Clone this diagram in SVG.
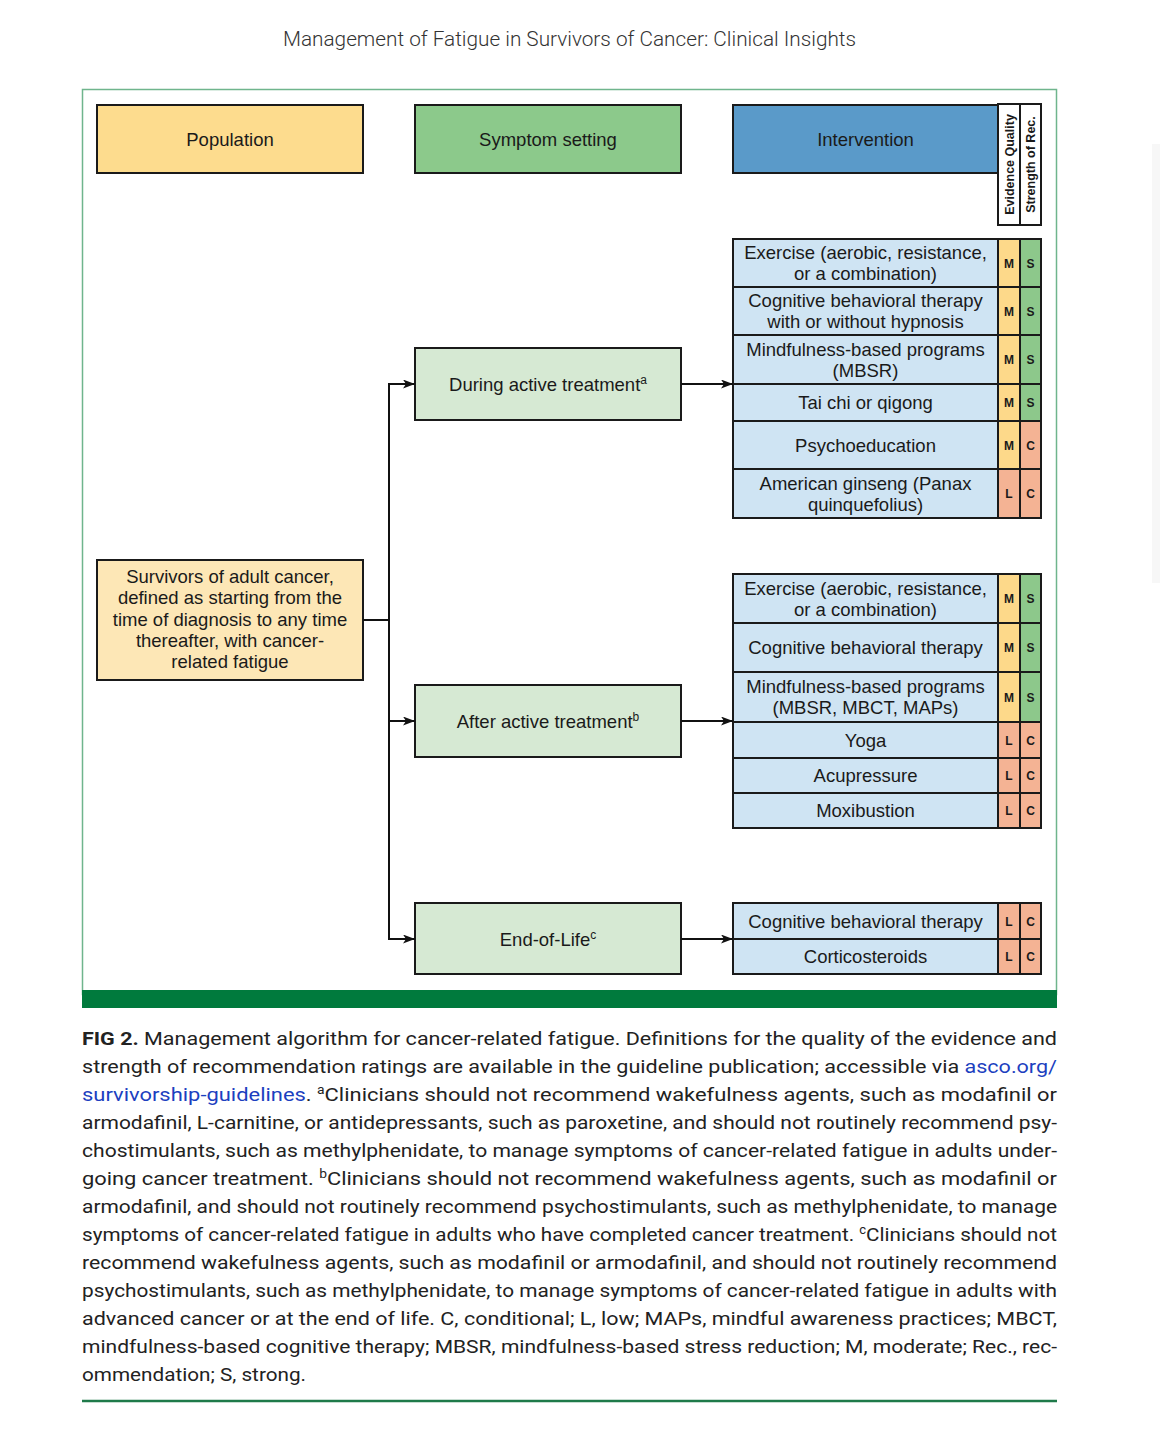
<svg xmlns="http://www.w3.org/2000/svg" width="1170" height="1433" viewBox="0 0 1170 1433">
<defs>
<marker id="ah" markerUnits="userSpaceOnUse" markerWidth="13" markerHeight="10" refX="12" refY="4.5" orient="auto">
<path d="M0,0 L12,4.5 L0,9 L3,4.5 z" fill="#111"/>
</marker>
<style>
.t{font-family:"Liberation Sans",Arial,sans-serif;font-size:18.5px;fill:#1a1a1a;text-anchor:middle}
.b{stroke:#1a1a1a;stroke-width:2}
.cell{fill:#cfe4f3;stroke:#1a1a1a;stroke-width:2}
.m{fill:#fdd98a;stroke:#1a1a1a;stroke-width:2}
.s{fill:#8dc88b;stroke:#1a1a1a;stroke-width:2}
.c{fill:#f4b394;stroke:#1a1a1a;stroke-width:2}
.r{font-family:"Liberation Sans",Arial,sans-serif;font-size:12px;font-weight:bold;fill:#1a1a1a;text-anchor:middle}
.v{font-family:"Liberation Sans",Arial,sans-serif;font-size:12.5px;font-weight:bold;fill:#1a1a1a;text-anchor:middle}
.cap{font-family:Roboto,"Liberation Sans",sans-serif;font-size:19px;fill:#222}
.lnk{fill:#1c3fbf}
.sup{font-size:12px}
.con{fill:none;stroke:#111;stroke-width:2}
</style>
</defs>
<rect width="1170" height="1433" fill="#ffffff"/>
<rect x="1152" y="144" width="8" height="439" fill="#f7f7f7"/>
<text x="569.5" y="46" font-family="Roboto,'Liberation Sans',sans-serif" font-weight="300" font-size="20" fill="#333" text-anchor="middle" textLength="573" lengthAdjust="spacingAndGlyphs">Management of Fatigue in Survivors of Cancer: Clinical Insights</text>
<rect x="82.5" y="89.5" width="974" height="905" fill="none" stroke="#6fb58d" stroke-width="1.5"/>
<rect x="82" y="990" width="975" height="18" fill="#007a3d"/>

<g id="header-population"><rect x="97" y="105" width="266" height="68" fill="#fddc8e" class="b"/><text class="t" x="230" y="145.5">Population</text></g>
<g id="header-symptom"><rect x="415" y="105" width="266" height="68" fill="#8cc98b" class="b"/><text class="t" x="548" y="145.5">Symptom setting</text></g>
<g id="header-intervention"><rect x="733" y="105" width="265" height="68" fill="#5a9ac9" class="b"/><text class="t" x="865.5" y="145.5">Intervention</text></g>
<g id="header-evidence"><rect x="998" y="104" width="22" height="121" fill="#fff" class="b"/><text class="v" transform="translate(1013.5,164.5) rotate(-90)">Evidence Quality</text></g>
<g id="header-strength"><rect x="1020" y="104" width="21" height="121" fill="#fff" class="b"/><text class="v" transform="translate(1034.5,164.5) rotate(-90)">Strength of Rec.</text></g>

<g id="population"><rect x="97" y="560" width="266" height="120" fill="#fde7b6" class="b"/>
<text class="t" x="230"><tspan x="230" y="583">Survivors of adult cancer,</tspan><tspan x="230" y="604.3">defined as starting from the</tspan><tspan x="230" y="625.6">time of diagnosis to any time</tspan><tspan x="230" y="646.9">thereafter, with cancer-</tspan><tspan x="230" y="668.2">related fatigue</tspan></text></g>

<g id="during"><rect x="415" y="348" width="266" height="72" fill="#d6e9d3" class="b"/><text class="t" x="548" y="390.5">During active treatment<tspan class="sup" baseline-shift="super">a</tspan></text></g>
<g id="after"><rect x="415" y="685" width="266" height="72" fill="#d6e9d3" class="b"/><text class="t" x="548" y="727.5">After active treatment<tspan class="sup" baseline-shift="super">b</tspan></text></g>
<g id="eol"><rect x="415" y="903" width="266" height="71" fill="#d6e9d3" class="b"/><text class="t" x="548" y="945.5">End-of-Life<tspan class="sup" baseline-shift="super">c</tspan></text></g>

<g id="int-during">
<g id="d1"><rect class="cell" x="733" y="239" width="265" height="48"/><rect class="m" x="998" y="239" width="22" height="48"/><rect class="s" x="1020" y="239" width="21" height="48"/>
<text class="t" x="865.5"><tspan x="865.5" y="259">Exercise (aerobic, resistance,</tspan><tspan x="865.5" y="280">or a combination)</tspan></text><text class="r" x="1009" y="267.5">M</text><text class="r" x="1030.5" y="267.5">S</text></g>
<g id="d2"><rect class="cell" x="733" y="287" width="265" height="48"/><rect class="m" x="998" y="287" width="22" height="48"/><rect class="s" x="1020" y="287" width="21" height="48"/>
<text class="t" x="865.5"><tspan x="865.5" y="307">Cognitive behavioral therapy</tspan><tspan x="865.5" y="328">with or without hypnosis</tspan></text><text class="r" x="1009" y="315.5">M</text><text class="r" x="1030.5" y="315.5">S</text></g>
<g id="d3"><rect class="cell" x="733" y="335" width="265" height="49"/><rect class="m" x="998" y="335" width="22" height="49"/><rect class="s" x="1020" y="335" width="21" height="49"/>
<text class="t" x="865.5"><tspan x="865.5" y="355.5">Mindfulness-based programs</tspan><tspan x="865.5" y="376.5">(MBSR)</tspan></text><text class="r" x="1009" y="364">M</text><text class="r" x="1030.5" y="364">S</text></g>
<g id="d4"><rect class="cell" x="733" y="384" width="265" height="37"/><rect class="m" x="998" y="384" width="22" height="37"/><rect class="s" x="1020" y="384" width="21" height="37"/>
<text class="t" x="865.5" y="409">Tai chi or qigong</text><text class="r" x="1009" y="407">M</text><text class="r" x="1030.5" y="407">S</text></g>
<g id="d5"><rect class="cell" x="733" y="421" width="265" height="48"/><rect class="m" x="998" y="421" width="22" height="48"/><rect class="c" x="1020" y="421" width="21" height="48"/>
<text class="t" x="865.5" y="451.5">Psychoeducation</text><text class="r" x="1009" y="449.5">M</text><text class="r" x="1030.5" y="449.5">C</text></g>
<g id="d6"><rect class="cell" x="733" y="469" width="265" height="49"/><rect class="c" x="998" y="469" width="22" height="49"/><rect class="c" x="1020" y="469" width="21" height="49"/>
<text class="t" x="865.5"><tspan x="865.5" y="489.5">American ginseng (Panax</tspan><tspan x="865.5" y="510.5">quinquefolius)</tspan></text><text class="r" x="1009" y="498">L</text><text class="r" x="1030.5" y="498">C</text></g>
</g>

<g id="int-after">
<g id="a1"><rect class="cell" x="733" y="574" width="265" height="49"/><rect class="m" x="998" y="574" width="22" height="49"/><rect class="s" x="1020" y="574" width="21" height="49"/>
<text class="t" x="865.5"><tspan x="865.5" y="594.5">Exercise (aerobic, resistance,</tspan><tspan x="865.5" y="615.5">or a combination)</tspan></text><text class="r" x="1009" y="603">M</text><text class="r" x="1030.5" y="603">S</text></g>
<g id="a2"><rect class="cell" x="733" y="623" width="265" height="49"/><rect class="m" x="998" y="623" width="22" height="49"/><rect class="s" x="1020" y="623" width="21" height="49"/>
<text class="t" x="865.5" y="654">Cognitive behavioral therapy</text><text class="r" x="1009" y="652">M</text><text class="r" x="1030.5" y="652">S</text></g>
<g id="a3"><rect class="cell" x="733" y="672" width="265" height="50"/><rect class="m" x="998" y="672" width="22" height="50"/><rect class="s" x="1020" y="672" width="21" height="50"/>
<text class="t" x="865.5"><tspan x="865.5" y="693">Mindfulness-based programs</tspan><tspan x="865.5" y="714">(MBSR, MBCT, MAPs)</tspan></text><text class="r" x="1009" y="701.5">M</text><text class="r" x="1030.5" y="701.5">S</text></g>
<g id="a4"><rect class="cell" x="733" y="722" width="265" height="36"/><rect class="c" x="998" y="722" width="22" height="36"/><rect class="c" x="1020" y="722" width="21" height="36"/>
<text class="t" x="865.5" y="746.5">Yoga</text><text class="r" x="1009" y="744.5">L</text><text class="r" x="1030.5" y="744.5">C</text></g>
<g id="a5"><rect class="cell" x="733" y="758" width="265" height="35"/><rect class="c" x="998" y="758" width="22" height="35"/><rect class="c" x="1020" y="758" width="21" height="35"/>
<text class="t" x="865.5" y="782">Acupressure</text><text class="r" x="1009" y="780">L</text><text class="r" x="1030.5" y="780">C</text></g>
<g id="a6"><rect class="cell" x="733" y="793" width="265" height="35"/><rect class="c" x="998" y="793" width="22" height="35"/><rect class="c" x="1020" y="793" width="21" height="35"/>
<text class="t" x="865.5" y="817">Moxibustion</text><text class="r" x="1009" y="815">L</text><text class="r" x="1030.5" y="815">C</text></g>
</g>

<g id="int-eol">
<g id="e1"><rect class="cell" x="733" y="903" width="265" height="36"/><rect class="c" x="998" y="903" width="22" height="36"/><rect class="c" x="1020" y="903" width="21" height="36"/>
<text class="t" x="865.5" y="927.5">Cognitive behavioral therapy</text><text class="r" x="1009" y="925.5">L</text><text class="r" x="1030.5" y="925.5">C</text></g>
<g id="e2"><rect class="cell" x="733" y="939" width="265" height="35"/><rect class="c" x="998" y="939" width="22" height="35"/><rect class="c" x="1020" y="939" width="21" height="35"/>
<text class="t" x="865.5" y="963">Corticosteroids</text><text class="r" x="1009" y="961">L</text><text class="r" x="1030.5" y="961">C</text></g>
</g>

<g id="connectors">
<path class="con" d="M363,620 H389"/>
<path class="con" d="M389,384 V939"/>
<path class="con" d="M388,384 H415" marker-end="url(#ah)"/>
<path class="con" d="M389,721 H415" marker-end="url(#ah)"/>
<path class="con" d="M388,939 H415" marker-end="url(#ah)"/>
<path class="con" d="M681,384 H733" marker-end="url(#ah)"/>
<path class="con" d="M681,721 H733" marker-end="url(#ah)"/>
<path class="con" d="M681,939 H733" marker-end="url(#ah)"/>
</g>

<g id="caption">
<text class="cap" x="82" y="1045" textLength="975" lengthAdjust="spacingAndGlyphs"><tspan font-weight="bold">FIG 2.</tspan> Management algorithm for cancer-related fatigue. Definitions for the quality of the evidence and</text>
<text class="cap" x="82" y="1073" textLength="975" lengthAdjust="spacingAndGlyphs">strength of recommendation ratings are available in the guideline publication; accessible via <tspan class="lnk">asco.org/</tspan></text>
<text class="cap" x="82" y="1101" textLength="975" lengthAdjust="spacingAndGlyphs"><tspan class="lnk">survivorship-guidelines</tspan>. <tspan class="sup" baseline-shift="super">a</tspan>Clinicians should not recommend wakefulness agents, such as modafinil or</text>
<text class="cap" x="82" y="1129" textLength="975" lengthAdjust="spacingAndGlyphs">armodafinil, L-carnitine, or antidepressants, such as paroxetine, and should not routinely recommend psy-</text>
<text class="cap" x="82" y="1157" textLength="975" lengthAdjust="spacingAndGlyphs">chostimulants, such as methylphenidate, to manage symptoms of cancer-related fatigue in adults under-</text>
<text class="cap" x="82" y="1185" textLength="975" lengthAdjust="spacingAndGlyphs">going cancer treatment. <tspan class="sup" baseline-shift="super">b</tspan>Clinicians should not recommend wakefulness agents, such as modafinil or</text>
<text class="cap" x="82" y="1213" textLength="975" lengthAdjust="spacingAndGlyphs">armodafinil, and should not routinely recommend psychostimulants, such as methylphenidate, to manage</text>
<text class="cap" x="82" y="1241" textLength="975" lengthAdjust="spacingAndGlyphs">symptoms of cancer-related fatigue in adults who have completed cancer treatment. <tspan class="sup" baseline-shift="super">c</tspan>Clinicians should not</text>
<text class="cap" x="82" y="1269" textLength="975" lengthAdjust="spacingAndGlyphs">recommend wakefulness agents, such as modafinil or armodafinil, and should not routinely recommend</text>
<text class="cap" x="82" y="1297" textLength="975" lengthAdjust="spacingAndGlyphs">psychostimulants, such as methylphenidate, to manage symptoms of cancer-related fatigue in adults with</text>
<text class="cap" x="82" y="1325" textLength="975" lengthAdjust="spacingAndGlyphs">advanced cancer or at the end of life. C, conditional; L, low; MAPs, mindful awareness practices; MBCT,</text>
<text class="cap" x="82" y="1353" textLength="975" lengthAdjust="spacingAndGlyphs">mindfulness-based cognitive therapy; MBSR, mindfulness-based stress reduction; M, moderate; Rec., rec-</text>
<text class="cap" x="82" y="1381" textLength="224" lengthAdjust="spacingAndGlyphs">ommendation; S, strong.</text>
</g>
<line x1="82" y1="1401" x2="1057" y2="1401" stroke="#1f7a4a" stroke-width="2.5"/>
</svg>
